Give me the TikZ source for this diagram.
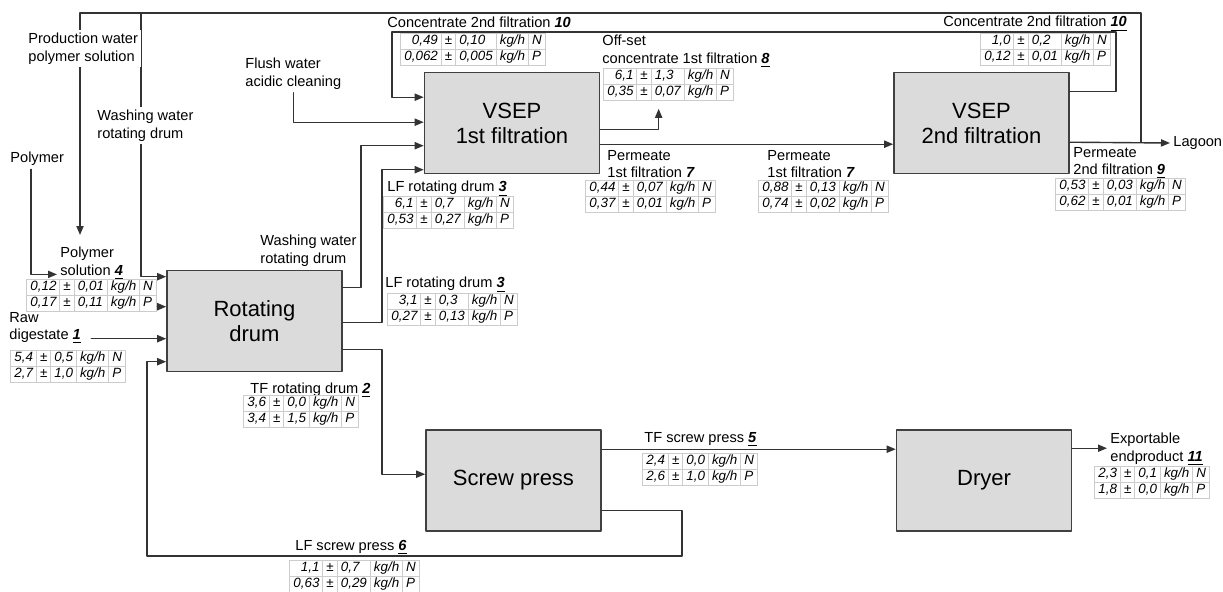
\documentclass[tikz,border=0pt]{standalone}
\usepackage{fontspec}
\setmainfont{Liberation Sans}
\usepackage{array}
\usetikzlibrary{arrows.meta}

\newcommand{\fno}[1]{\underline{\textbf{\textit{#1}}}}
\newcolumntype{I}{!{{\color{black!20}\vrule width 0.5pt}}}
\newcommand{\gh}{\noalign{{\color{black!20}\hrule height 0.5pt}}}
\newcommand{\np}[4]{{\fontsize{6.7}{7.5}\selectfont\itshape\setlength{\tabcolsep}{1.5pt}%
\begin{tabular}{IrIcIlIlIlI}\gh
#1&±&#2&kg/h&N\\\gh
#3&±&#4&kg/h&P\\\gh
\end{tabular}}}

\tikzset{
  unit/.style={draw=black!75, fill=black!14, line width=0.8pt, minimum width=87.5pt,
    minimum height=50.5pt, align=center, font=\fontsize{11}{12.5}\selectfont},
  lbl/.style={align=left, inner sep=1.5pt, font=\fontsize{7.3}{8.7}\selectfont},
  tbl/.style={inner sep=0pt, anchor=north west},
  flow/.style={draw=black!80, line width=0.7pt, ->}
}

\begin{document}
\begin{tikzpicture}[line cap=round,line join=round,>={Triangle[length=4.5pt,width=3.6pt]},x=0.5pt,y=-0.5pt]
\useasboundingbox (0,0) rectangle (1223,591);
% units
\node[unit] (drum) at (254.5,321) {Rotating\\drum};
\node[unit] (vsepA) at (512,123) {VSEP\\1st filtration};
\node[unit] (vsepB) at (981.5,123) {VSEP\\2nd filtration};
\node[unit] (press) at (513.5,480.5) {Screw press};
\node[unit] (dryer) at (984,480.5) {Dryer};
% labels
\node[lbl,anchor=north west] (polymer) at (7,149) {Polymer};
\node[lbl,anchor=north west] (flush) at (242,55) {Flush water\\acidic cleaning};
\node[lbl,anchor=north west] (polysol) at (57,244) {Polymer\\solution \fno{4}};
\node[lbl,anchor=north west] (raw) at (6,309) {Raw\\digestate \fno{1}};
\node[lbl,anchor=north west] (washlow) at (257,232) {Washing water\\rotating drum};
\node[lbl,anchor=north west] (lfA) at (384,178) {LF rotating drum \fno{3}};
\node[lbl,anchor=north west] (lfB) at (382,274) {LF rotating drum \fno{3}};
\node[lbl,anchor=north west] (tfdrum) at (247,380) {TF rotating drum \fno{2}};
\node[lbl,anchor=north west] (concA) at (384,14) {Concentrate 2nd filtration \fno{10}};
\node[lbl,anchor=north west] (offset) at (599,32) {Off-set\\concentrate 1st filtration \fno{8}};
\node[lbl,anchor=north west] (permA) at (604,147) {Permeate\\1st filtration \fno{7}};
\node[lbl,anchor=north west] (permB) at (764,147) {Permeate\\1st filtration \fno{7}};
\node[lbl,anchor=north west] (concB) at (940,13) {Concentrate 2nd filtration \fno{10}};
\node[lbl,anchor=north west] (permC) at (1070,144) {Permeate\\2nd filtration \fno{9}};
\node[lbl,anchor=west] (lagoon) at (1170,143) {Lagoon};
\node[lbl,anchor=north west] (tfpress) at (641,429) {TF screw press \fno{5}};
\node[lbl,anchor=north west] (export) at (1107,430) {Exportable\\endproduct \fno{11}};
\node[lbl,anchor=north west] (lfpress) at (292,537) {LF screw press \fno{6}};
% tables
\node[tbl] (t4) at (26,279) {\np{0,12}{0,01}{0,17}{0,11}};
\node[tbl] (t1) at (10,350) {\np{5,4}{0,5}{2,7}{1,0}};
\node[tbl] (t3a) at (383,196) {\np{6,1}{0,7}{0,53}{0,27}};
\node[tbl] (t3b) at (387,293) {\np{3,1}{0,3}{0,27}{0,13}};
\node[tbl] (t2) at (243,395) {\np{3,6}{0,0}{3,4}{1,5}};
\node[tbl] (t10a) at (400,33) {\np{0,49}{0,10}{0,062}{0,005}};
\node[tbl] (t8) at (603,68) {\np{6,1}{1,3}{0,35}{0,07}};
\node[tbl] (t7a) at (585,180) {\np{0,44}{0,07}{0,37}{0,01}};
\node[tbl] (t7b) at (758,180) {\np{0,88}{0,13}{0,74}{0,02}};
\node[tbl] (t10b) at (980,33) {\np{1,0}{0,2}{0,12}{0,01}};
\node[tbl] (t9) at (1055,178) {\np{0,53}{0,03}{0,62}{0,01}};
\node[tbl] (t5) at (642,453) {\np{2,4}{0,0}{2,6}{1,0}};
\node[tbl] (t11) at (1094,466) {\np{2,3}{0,1}{1,8}{0,0}};
\node[tbl] (t6) at (289,560) {\np{1,1}{0,7}{0,63}{0,29}};
% ports
\coordinate (dIn1) at ([yshift=-3.5pt]drum.north west);
\coordinate (dIn2) at ([yshift=-18.5pt]drum.north west);
\coordinate (dIn3) at ([yshift=-34.5pt]drum.north west);
\coordinate (dIn4) at ([yshift=-46pt]drum.north west);
\coordinate (dOut1) at ([yshift=-9pt]drum.north east);
\coordinate (dOut2) at ([yshift=-26.5pt]drum.north east);
\coordinate (dOut3) at ([yshift=-40pt]drum.north east);
\coordinate (vIn1) at ([yshift=-12.75pt]vsepA.north west);
\coordinate (vIn2) at ([yshift=-25.25pt]vsepA.north west);
\coordinate (vIn3) at ([yshift=-37pt]vsepA.north west);
\coordinate (vIn4) at ([yshift=-49pt]vsepA.north west);
\coordinate (aOut1) at ([yshift=-28.75pt]vsepA.north east);
\coordinate (aOut2) at ([yshift=-36.25pt]vsepA.north east);
\coordinate (bOut1) at ([yshift=-9.75pt]vsepB.north east);
\coordinate (bOut2) at ([yshift=-35.25pt]vsepB.north east);
\coordinate (pOut1) at ([yshift=-10pt]press.north east);
\coordinate (pIn) at ([yshift=-22.5pt]press.north west);
\coordinate (pOut2) at ([yshift=-40.5pt]press.north east);
\coordinate (yOut) at ([yshift=-9.5pt]dryer.north east);
\coordinate (offTip) at ([xshift=-5pt,yshift=-3.5pt]t8.south);
\coordinate (topL) at (80,13);
\coordinate (topW) at (141,13);
\coordinate (lagJ) at ([xshift=35.5pt]bOut2);
\coordinate (topR) at (lagJ |- topL);
\coordinate (concL) at (392,32);
\coordinate (lfBot) at (147,556);
% feeds rotating drum
\draw[flow] (lagJ) -- (topR) -- (topL) -- (topL |- polysol.north) [shorten >=4.5pt];
\draw[flow] (topW) |- (dIn1);
\draw[flow] ([xshift=-3pt]polymer.south) |- ([yshift=-5.5pt]polysol.west);
\draw[flow] (t4.east |- dIn2) -- (dIn2);
\draw[flow,shorten <=3.5pt] (raw.east |- dIn3) -- (dIn3);
\draw[flow] (pOut2) -- ++(40pt,0) |- (lfBot) |- (dIn4);
% rotating drum out
\draw[flow] (dOut1) -- ++(9pt,0) |- (vIn3);
\draw[flow] (dOut2) -- ++(19.5pt,0) |- (vIn4);
\draw[flow] (dOut3) -- ++(19.5pt,0) |- (pIn);
% VSEP
\draw[flow] (flush.south) |- (vIn2);
\draw[flow] (bOut1) -- ++(23pt,0) |- (concL) |- (vIn1);
\draw[flow] (aOut1) -| (offTip);
\draw[flow] (aOut2) -- (aOut2 -| vsepB.west);
\draw[flow] (bOut2) -- (lagoon.west);
% screw press, dryer
\draw[flow] (pOut1) -- (pOut1 -| dryer.west);
\draw[flow] (yOut) -- (yOut -| export.west);
% labels over lines
\node[lbl,fill=white,anchor=north west] (prodwater) at (25,30) {Production water\\polymer solution};
\node[lbl,fill=white,anchor=north west] (washtop) at (94,107) {Washing water\\rotating drum};
\end{tikzpicture}
\end{document}
